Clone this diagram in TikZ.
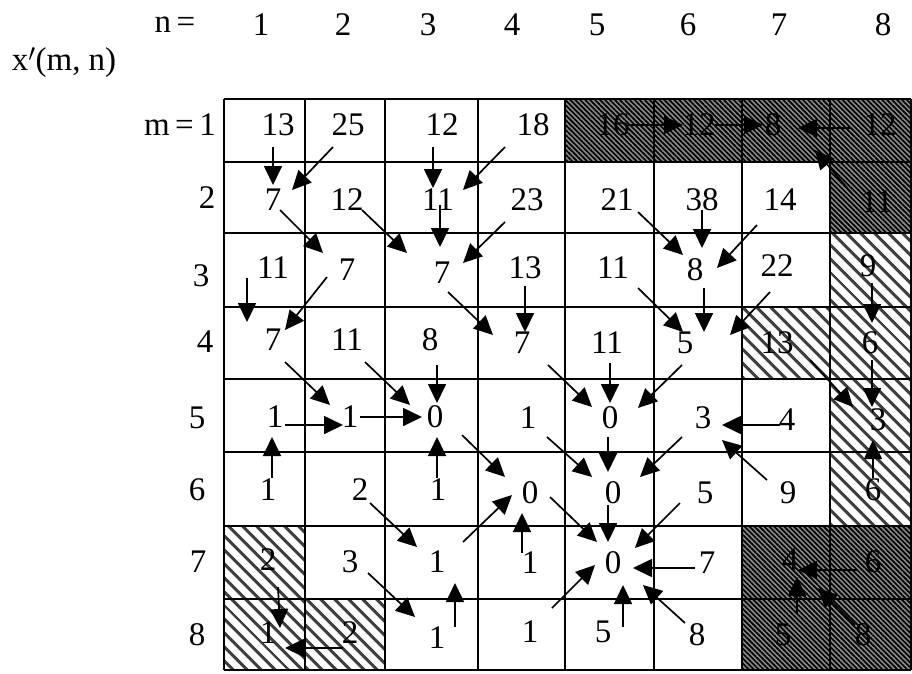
\documentclass[tikz,border=0pt]{standalone}
\usepackage{fontspec}
\setmainfont{Liberation Serif}
\usetikzlibrary{arrows.meta,calc,patterns.meta}
\newcommand{\arw}[6]{\draw[arr] ($(#1)+(#2,#3)$) -- ($(#4)+(#5,#6)$);}
\begin{document}
\begin{tikzpicture}[x=1pt,y=-1pt,
  num/.style={font=\fontsize{33}{33}\selectfont, inner sep=0pt},
  lab/.style={font=\fontsize{33}{33}\selectfont, inner sep=0pt},
  arr/.style={line width=1.7pt, -{Triangle[length=19pt,width=18pt]}},
  darkcell/.style={fill=black!45, postaction={pattern={Lines[angle=-45,distance=3.5pt,line width=1.7pt]}, pattern color=black}},
  hatchcell/.style={pattern={Lines[angle=-45,distance=10.5pt,line width=3.4pt]}, pattern color=black!75},
  gridline/.style={line width=1.8pt}
]
\useasboundingbox (0,0) rectangle (912,673);
% shaded cells
\path[darkcell] (565,99) rectangle (911,162);
\path[darkcell] (830,162) rectangle (911,233);
\path[darkcell] (742,526) rectangle (911,670);
\path[hatchcell] (830,233) rectangle (911,526);
\path[hatchcell] (742,307) rectangle (830,379);
\path[hatchcell] (224,526) rectangle (305,670);
\path[hatchcell] (305,599) rectangle (385,670);
% grid
\foreach \x in {224,305,385,478,565,654,742,830,911} \draw[gridline] (\x,99) -- (\x,670);
\foreach \y in {99,162,233,307,379,452,526,599,670} \draw[gridline] (224,\y) -- (911,\y);
% headers
\node[lab] (nlab) at (175,25) {n\,=};
\node[lab] (h1) at (261,25) {1};
\node[lab] (h2) at (343,25) {2};
\node[lab] (h3) at (428,25) {3};
\node[lab] (h4) at (512,25) {4};
\node[lab] (h5) at (597,25) {5};
\node[lab] (h6) at (688,25) {6};
\node[lab] (h7) at (779,25) {7};
\node[lab] (h8) at (883,25) {8};
\node[lab] (title) at (64,63) {x$'$(m, n)};
\node[lab,anchor=east] (r1) at (216,125) {m\,=\,1};
\node[lab] (r2) at (207,198) {2};
\node[lab] (r3) at (201,276) {3};
\node[lab] (r4) at (205,342) {4};
\node[lab] (r5) at (197,418) {5};
\node[lab] (r6) at (197,490) {6};
\node[lab] (r7) at (198,562) {7};
\node[lab] (r8) at (197,635) {8};
% values
\node[num] (c11) at (278,125) {13};
\node[num] (c12) at (348,125) {25};
\node[num] (c13) at (442,125) {12};
\node[num] (c14) at (533,125) {18};
\node[num] (c15) at (613,125) {16};
\node[num] (c16) at (699,125) {12};
\node[num] (c17) at (773,125) {8};
\node[num] (c18) at (880,125) {12};
\node[num] (c21) at (273,200) {7};
\node[num] (c22) at (347,200) {12};
\node[num] (c23) at (438,200) {11};
\node[num] (c24) at (527,200) {23};
\node[num] (c25) at (617,200) {21};
\node[num] (c26) at (702,200) {38};
\node[num] (c27) at (780,200) {14};
\node[num] (c28) at (877,202) {11};
\node[num] (c31) at (273,268) {11};
\node[num] (c32) at (347,270) {7};
\node[num] (c33) at (442,273) {7};
\node[num] (c34) at (525,268) {13};
\node[num] (c35) at (613,268) {11};
\node[num] (c36) at (695,270) {8};
\node[num] (c37) at (777,266) {22};
\node[num] (c38) at (868,266) {9};
\node[num] (c41) at (273,340) {7};
\node[num] (c42) at (347,340) {11};
\node[num] (c43) at (430,340) {8};
\node[num] (c44) at (522,343) {7};
\node[num] (c45) at (607,343) {11};
\node[num] (c46) at (685,343) {5};
\node[num] (c47) at (777,343) {13};
\node[num] (c48) at (870,343) {6};
\node[num] (c51) at (275,417) {1};
\node[num] (c52) at (350,417) {1};
\node[num] (c53) at (435,417) {0};
\node[num] (c54) at (528,418) {1};
\node[num] (c55) at (610,418) {0};
\node[num] (c56) at (703,418) {3};
\node[num] (c57) at (787,420) {4};
\node[num] (c58) at (878,420) {3};
\node[num] (c61) at (268,490) {1};
\node[num] (c62) at (360,490) {2};
\node[num] (c63) at (438,490) {1};
\node[num] (c64) at (530,493) {0};
\node[num] (c65) at (613,493) {0};
\node[num] (c66) at (705,493) {5};
\node[num] (c67) at (788,493) {9};
\node[num] (c68) at (873,490) {6};
\node[num] (c71) at (268,560) {2};
\node[num] (c72) at (350,562) {3};
\node[num] (c73) at (437,562) {1};
\node[num] (c74) at (530,563) {1};
\node[num] (c75) at (613,563) {0};
\node[num] (c76) at (707,563) {7};
\node[num] (c77) at (790,560) {4};
\node[num] (c78) at (873,562) {6};
\node[num] (c81) at (268,633) {1};
\node[num] (c82) at (350,633) {2};
\node[num] (c83) at (437,638) {1};
\node[num] (c84) at (530,632) {1};
\node[num] (c85) at (603,632) {5};
\node[num] (c86) at (697,635) {8};
\node[num] (c87) at (783,635) {5};
\node[num] (c88) at (863,635) {8};
% arrows
\arw{c11}{-5}{22}{c21}{0}{-15}
\arw{c12}{-15}{22}{c21}{19}{-10}
\arw{c13}{-9}{22}{c23}{-5}{-12}
\arw{c14}{-28}{22}{c23}{25}{-10}
\arw{c15}{15}{0}{c16}{-16}{0}
\arw{c16}{16}{0}{c17}{-10}{0}
\arw{c18}{-30}{3}{c17}{25}{3}
\arw{c28}{-24}{-7}{c17}{42}{25}
\arw{c21}{7}{10}{c32}{-24}{-17}
\arw{c22}{15}{10}{c33}{-35}{-20}
\arw{c23}{2}{5}{c33}{-2}{-26}
\arw{c24}{-22}{22}{c33}{21}{-10}
\arw{c25}{21}{12}{c36}{-12}{-15}
\arw{c26}{0}{10}{c36}{7}{-22}
\arw{c27}{-23}{25}{c36}{22}{-2}
\arw{c31}{-26}{10}{c41}{-26}{-18}
\arw{c32}{-20}{7}{c41}{12}{-10}
\arw{c33}{6}{19}{c44}{-29}{-8}
\arw{c34}{0}{18}{c44}{3}{-11}
\arw{c35}{25}{20}{c46}{-2}{-11}
\arw{c36}{9}{18}{c46}{19}{-11}
\arw{c37}{-7}{26}{c46}{45}{-8}
\arw{c38}{4}{17}{c48}{2}{-20}
\arw{c41}{12}{22}{c52}{-20}{-12}
\arw{c42}{18}{22}{c53}{-25}{-12}
\arw{c43}{7}{25}{c53}{2}{-14}
\arw{c44}{26}{22}{c55}{-18}{-11}
\arw{c45}{3}{20}{c55}{0}{-15}
\arw{c46}{-3}{22}{c55}{28}{-10}
\arw{c47}{33}{17}{c58}{-25}{-13}
\arw{c48}{2}{17}{c58}{-6}{-13}
\arw{c51}{10}{8}{c52}{-7}{8}
\arw{c52}{10}{0}{c53}{-13}{0}
\arw{c61}{4}{-12}{c51}{-3}{20}
\arw{c63}{-1}{-12}{c53}{2}{20}
\arw{c53}{27}{18}{c64}{-25}{-16}
\arw{c54}{19}{19}{c65}{-21}{-16}
\arw{c55}{-2}{19}{c65}{-5}{-21}
\arw{c56}{-21}{19}{c65}{27}{-16}
\arw{c57}{-7}{5}{c56}{19}{7}
\arw{c67}{-21}{-13}{c56}{19}{22}
\arw{c68}{0}{-12}{c58}{-5}{20}
\arw{c62}{10}{13}{c73}{-20}{-15}
\arw{c72}{18}{11}{c83}{-22}{-21}
\arw{c83}{18}{-11}{c73}{18}{21}
\arw{c73}{26}{-20}{c64}{-18}{2}
\arw{c74}{-8}{-10}{c64}{-8}{20}
\arw{c64}{20}{4}{c75}{-16}{-21}
\arw{c65}{-5}{12}{c75}{-5}{-21}
\arw{c66}{-25}{10}{c75}{22}{-15}
\arw{c76}{-12}{5}{c75}{20}{5}
\arw{c84}{22}{-24}{c75}{-18}{2}
\arw{c85}{20}{-5}{c75}{10}{22}
\arw{c86}{-12}{-12}{c75}{30}{22}
\arw{c71}{10}{27}{c81}{12}{-5}
\arw{c82}{-7}{15}{c81}{17}{15}
\arw{c78}{-16}{8}{c77}{8}{10}
\arw{c87}{14}{-22}{c77}{7}{17}
\arw{c88}{-8}{-10}{c77}{28}{28}
\end{tikzpicture}
\end{document}
